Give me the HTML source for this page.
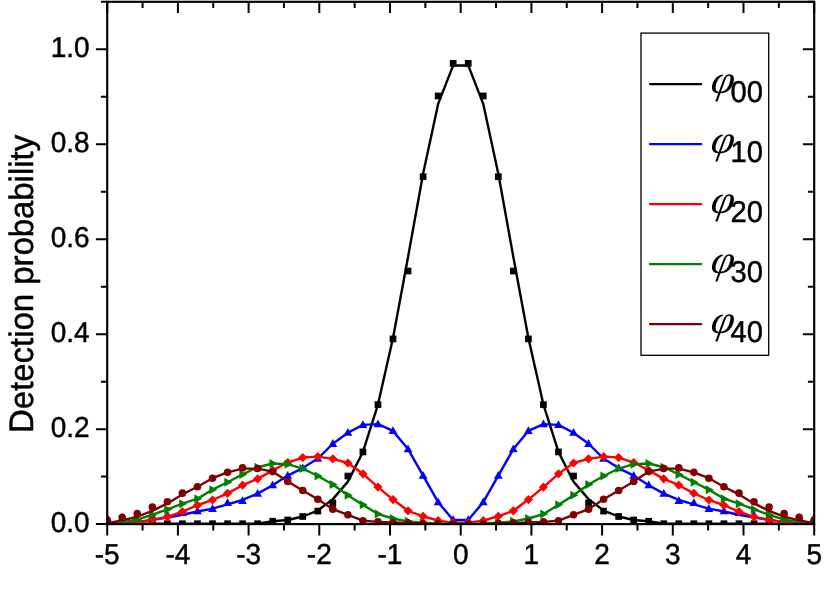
<!DOCTYPE html>
<html><head><meta charset="utf-8"><title>Detection probability</title>
<style>html,body{margin:0;padding:0;background:#fff}svg{display:block;will-change:transform}text{font-family:"Liberation Sans",sans-serif;fill:#000;text-rendering:geometricPrecision}.b{stroke:#000;stroke-width:0.45px}.phi{font-family:"Liberation Serif",serif;font-style:italic}</style></head><body>
<svg width="830" height="608" viewBox="0 0 830 608">
<rect width="830" height="608" fill="#fff"/>
<defs><clipPath id="c"><rect x="107.2" y="1.8" width="707" height="522.3"/></clipPath></defs>
<g clip-path="url(#c)">
<polyline points="107.2,523.72 122.24,523.72 137.29,523.72 152.33,523.72 167.37,523.72 182.41,523.72 197.46,523.72 212.5,523.72 227.54,523.72 242.58,523.72 257.63,523.72 272.67,521.25 287.71,519.97 302.75,516.5 317.8,510.57 332.84,499.12 347.88,481.6 362.92,451.93 377.97,404.59 393.01,338.07 408.05,256.92 423.09,173.68 438.14,103.89 453.18,65.43 468.22,65.43 483.26,103.89 498.31,173.68 513.35,256.92 528.39,338.07 543.43,404.59 558.48,451.93 573.52,481.6 588.56,499.12 603.6,510.57 618.65,516.5 633.69,519.97 648.73,521.25 663.77,523.72 678.82,523.72 693.86,523.72 708.9,523.72 723.94,523.72 738.99,523.72 754.03,523.72 769.07,523.72 784.11,523.72 799.16,523.72 814.2,523.72" fill="none" stroke="#000000" stroke-width="2.4" stroke-linejoin="round"/>
<rect x="103.85" y="520.37" width="6.7" height="6.7" fill="#000000"/><rect x="118.89" y="520.37" width="6.7" height="6.7" fill="#000000"/><rect x="133.94" y="520.37" width="6.7" height="6.7" fill="#000000"/><rect x="148.98" y="520.37" width="6.7" height="6.7" fill="#000000"/><rect x="164.02" y="520.37" width="6.7" height="6.7" fill="#000000"/><rect x="179.06" y="520.37" width="6.7" height="6.7" fill="#000000"/><rect x="194.11" y="520.37" width="6.7" height="6.7" fill="#000000"/><rect x="209.15" y="520.37" width="6.7" height="6.7" fill="#000000"/><rect x="224.19" y="520.37" width="6.7" height="6.7" fill="#000000"/><rect x="239.23" y="520.37" width="6.7" height="6.7" fill="#000000"/><rect x="254.28" y="520.37" width="6.7" height="6.7" fill="#000000"/><rect x="269.32" y="517.9" width="6.7" height="6.7" fill="#000000"/><rect x="284.36" y="516.62" width="6.7" height="6.7" fill="#000000"/><rect x="299.4" y="513.15" width="6.7" height="6.7" fill="#000000"/><rect x="314.45" y="507.74" width="6.7" height="6.7" fill="#000000"/><rect x="329.49" y="499.62" width="6.7" height="6.7" fill="#000000"/><rect x="344.53" y="472.7" width="6.7" height="6.7" fill="#000000"/><rect x="359.57" y="448.58" width="6.7" height="6.7" fill="#000000"/><rect x="374.62" y="401.24" width="6.7" height="6.7" fill="#000000"/><rect x="389.66" y="335.57" width="6.7" height="6.7" fill="#000000"/><rect x="404.7" y="267.67" width="6.7" height="6.7" fill="#000000"/><rect x="419.74" y="173.37" width="6.7" height="6.7" fill="#000000"/><rect x="434.79" y="92.61" width="6.7" height="6.7" fill="#000000"/><rect x="449.83" y="60.03" width="6.7" height="6.7" fill="#000000"/><rect x="464.87" y="60.03" width="6.7" height="6.7" fill="#000000"/><rect x="479.91" y="92.61" width="6.7" height="6.7" fill="#000000"/><rect x="494.96" y="173.37" width="6.7" height="6.7" fill="#000000"/><rect x="510" y="267.67" width="6.7" height="6.7" fill="#000000"/><rect x="525.04" y="335.57" width="6.7" height="6.7" fill="#000000"/><rect x="540.08" y="401.24" width="6.7" height="6.7" fill="#000000"/><rect x="555.13" y="448.58" width="6.7" height="6.7" fill="#000000"/><rect x="570.17" y="472.7" width="6.7" height="6.7" fill="#000000"/><rect x="585.21" y="499.62" width="6.7" height="6.7" fill="#000000"/><rect x="600.25" y="507.74" width="6.7" height="6.7" fill="#000000"/><rect x="615.3" y="513.15" width="6.7" height="6.7" fill="#000000"/><rect x="630.34" y="516.62" width="6.7" height="6.7" fill="#000000"/><rect x="645.38" y="517.9" width="6.7" height="6.7" fill="#000000"/><rect x="660.42" y="520.37" width="6.7" height="6.7" fill="#000000"/><rect x="675.47" y="520.37" width="6.7" height="6.7" fill="#000000"/><rect x="690.51" y="520.37" width="6.7" height="6.7" fill="#000000"/><rect x="705.55" y="520.37" width="6.7" height="6.7" fill="#000000"/><rect x="720.59" y="520.37" width="6.7" height="6.7" fill="#000000"/><rect x="735.64" y="520.37" width="6.7" height="6.7" fill="#000000"/><rect x="750.68" y="520.37" width="6.7" height="6.7" fill="#000000"/><rect x="765.72" y="520.37" width="6.7" height="6.7" fill="#000000"/><rect x="780.76" y="520.37" width="6.7" height="6.7" fill="#000000"/><rect x="795.81" y="520.37" width="6.7" height="6.7" fill="#000000"/><rect x="810.85" y="520.37" width="6.7" height="6.7" fill="#000000"/>
<polyline points="107.2,523.63 122.24,523.15 137.29,522.11 152.33,519.92 167.37,517.55 182.41,514.75 197.46,511.47 212.5,508.67 227.54,504.44 242.58,499.98 257.63,493.62 272.67,485.21 287.71,475.57 302.75,468.07 317.8,458.58 332.84,443.76 347.88,432.7 362.92,424.86 377.97,424.1 393.01,430.89 408.05,449.08 423.09,475.57 438.14,502.21 453.18,519.97 468.22,519.97 483.26,502.21 498.31,475.57 513.35,449.08 528.39,430.89 543.43,424.1 558.48,424.86 573.52,432.7 588.56,443.76 603.6,458.58 618.65,468.07 633.69,475.57 648.73,485.21 663.77,493.62 678.82,499.98 693.86,504.44 708.9,508.67 723.94,511.47 738.99,514.75 754.03,517.55 769.07,519.92 784.11,522.11 799.16,523.15 814.2,523.63" fill="none" stroke="#0000ff" stroke-width="2.4" stroke-linejoin="round"/>
<path d="M107.2 513.25L111.6 521.05L102.8 521.05Z" fill="#0000ff"/><path d="M122.24 513.01L126.64 520.81L117.84 520.81Z" fill="#0000ff"/><path d="M137.29 514.43L141.69 522.23L132.89 522.23Z" fill="#0000ff"/><path d="M152.33 511.44L156.73 519.24L147.93 519.24Z" fill="#0000ff"/><path d="M167.37 510.16L171.77 517.96L162.97 517.96Z" fill="#0000ff"/><path d="M182.41 508.17L186.81 515.97L178.01 515.97Z" fill="#0000ff"/><path d="M197.46 506.5L201.86 514.3L193.06 514.3Z" fill="#0000ff"/><path d="M212.5 504.18L216.9 511.98L208.1 511.98Z" fill="#0000ff"/><path d="M227.54 498.29L231.94 506.09L223.14 506.09Z" fill="#0000ff"/><path d="M242.58 496.3L246.98 504.1L238.18 504.1Z" fill="#0000ff"/><path d="M257.63 488.94L262.03 496.74L253.23 496.74Z" fill="#0000ff"/><path d="M272.67 480.53L277.07 488.33L268.27 488.33Z" fill="#0000ff"/><path d="M287.71 470.89L292.11 478.69L283.31 478.69Z" fill="#0000ff"/><path d="M302.75 463.39L307.15 471.19L298.35 471.19Z" fill="#0000ff"/><path d="M317.8 453.9L322.2 461.7L313.4 461.7Z" fill="#0000ff"/><path d="M332.84 439.08L337.24 446.88L328.44 446.88Z" fill="#0000ff"/><path d="M347.88 428.02L352.28 435.82L343.48 435.82Z" fill="#0000ff"/><path d="M362.92 420.18L367.32 427.98L358.52 427.98Z" fill="#0000ff"/><path d="M377.97 419.42L382.37 427.22L373.57 427.22Z" fill="#0000ff"/><path d="M393.01 426.21L397.41 434.01L388.61 434.01Z" fill="#0000ff"/><path d="M408.05 444.4L412.45 452.2L403.65 452.2Z" fill="#0000ff"/><path d="M423.09 470.89L427.49 478.69L418.69 478.69Z" fill="#0000ff"/><path d="M438.14 497.53L442.54 505.33L433.74 505.33Z" fill="#0000ff"/><path d="M453.18 515.29L457.58 523.09L448.78 523.09Z" fill="#0000ff"/><path d="M468.22 515.29L472.62 523.09L463.82 523.09Z" fill="#0000ff"/><path d="M483.26 497.53L487.66 505.33L478.86 505.33Z" fill="#0000ff"/><path d="M498.31 470.89L502.71 478.69L493.91 478.69Z" fill="#0000ff"/><path d="M513.35 444.4L517.75 452.2L508.95 452.2Z" fill="#0000ff"/><path d="M528.39 426.21L532.79 434.01L523.99 434.01Z" fill="#0000ff"/><path d="M543.43 419.42L547.83 427.22L539.03 427.22Z" fill="#0000ff"/><path d="M558.48 420.18L562.88 427.98L554.08 427.98Z" fill="#0000ff"/><path d="M573.52 428.02L577.92 435.82L569.12 435.82Z" fill="#0000ff"/><path d="M588.56 439.08L592.96 446.88L584.16 446.88Z" fill="#0000ff"/><path d="M603.6 453.9L608 461.7L599.2 461.7Z" fill="#0000ff"/><path d="M618.65 463.39L623.05 471.19L614.25 471.19Z" fill="#0000ff"/><path d="M633.69 470.89L638.09 478.69L629.29 478.69Z" fill="#0000ff"/><path d="M648.73 480.53L653.13 488.33L644.33 488.33Z" fill="#0000ff"/><path d="M663.77 488.94L668.17 496.74L659.37 496.74Z" fill="#0000ff"/><path d="M678.82 496.3L683.22 504.1L674.42 504.1Z" fill="#0000ff"/><path d="M693.86 498.29L698.26 506.09L689.46 506.09Z" fill="#0000ff"/><path d="M708.9 504.18L713.3 511.98L704.5 511.98Z" fill="#0000ff"/><path d="M723.94 506.5L728.34 514.3L719.54 514.3Z" fill="#0000ff"/><path d="M738.99 508.17L743.39 515.97L734.59 515.97Z" fill="#0000ff"/><path d="M754.03 510.16L758.43 517.96L749.63 517.96Z" fill="#0000ff"/><path d="M769.07 511.44L773.47 519.24L764.67 519.24Z" fill="#0000ff"/><path d="M784.11 514.43L788.51 522.23L779.71 522.23Z" fill="#0000ff"/><path d="M799.16 513.01L803.56 520.81L794.76 520.81Z" fill="#0000ff"/><path d="M814.2 513.25L818.6 521.05L809.8 521.05Z" fill="#0000ff"/>
<polyline points="107.2,523.96 122.24,523.72 137.29,522.44 152.33,519.73 167.37,516.88 182.41,511.61 197.46,505.25 212.5,499.98 227.54,493.33 242.58,485.21 257.63,478.85 272.67,470.4 287.71,462.56 302.75,457.53 317.8,456.63 332.84,458.86 347.88,462.99 362.92,473.82 377.97,487.11 393.01,499.55 408.05,510.81 423.09,516.27 438.14,520.68 453.18,522.68 468.22,522.68 483.26,520.68 498.31,516.27 513.35,510.81 528.39,499.55 543.43,487.11 558.48,473.82 573.52,462.99 588.56,458.86 603.6,456.63 618.65,457.53 633.69,462.56 648.73,470.4 663.77,478.85 678.82,485.21 693.86,493.33 708.9,499.98 723.94,505.25 738.99,511.61 754.03,516.88 769.07,519.73 784.11,522.44 799.16,523.72 814.2,523.96" fill="none" stroke="#ff0000" stroke-width="2.4" stroke-linejoin="round"/>
<path d="M107.2 519.36L111.8 523.96L107.2 528.56L102.6 523.96Z" fill="#ff0000"/><path d="M122.24 519.12L126.84 523.72L122.24 528.32L117.64 523.72Z" fill="#ff0000"/><path d="M137.29 517.84L141.89 522.44L137.29 527.04L132.69 522.44Z" fill="#ff0000"/><path d="M152.33 515.13L156.93 519.73L152.33 524.33L147.73 519.73Z" fill="#ff0000"/><path d="M167.37 512.28L171.97 516.88L167.37 521.48L162.77 516.88Z" fill="#ff0000"/><path d="M182.41 507.01L187.01 511.61L182.41 516.21L177.81 511.61Z" fill="#ff0000"/><path d="M197.46 500.65L202.06 505.25L197.46 509.85L192.86 505.25Z" fill="#ff0000"/><path d="M212.5 495.38L217.1 499.98L212.5 504.58L207.9 499.98Z" fill="#ff0000"/><path d="M227.54 488.73L232.14 493.33L227.54 497.93L222.94 493.33Z" fill="#ff0000"/><path d="M242.58 480.61L247.18 485.21L242.58 489.81L237.98 485.21Z" fill="#ff0000"/><path d="M257.63 474.25L262.23 478.85L257.63 483.45L253.03 478.85Z" fill="#ff0000"/><path d="M272.67 465.8L277.27 470.4L272.67 475L268.07 470.4Z" fill="#ff0000"/><path d="M287.71 457.96L292.31 462.56L287.71 467.16L283.11 462.56Z" fill="#ff0000"/><path d="M302.75 452.93L307.35 457.53L302.75 462.13L298.15 457.53Z" fill="#ff0000"/><path d="M317.8 452.03L322.4 456.63L317.8 461.23L313.2 456.63Z" fill="#ff0000"/><path d="M332.84 454.26L337.44 458.86L332.84 463.46L328.24 458.86Z" fill="#ff0000"/><path d="M347.88 458.39L352.48 462.99L347.88 467.59L343.28 462.99Z" fill="#ff0000"/><path d="M362.92 469.22L367.52 473.82L362.92 478.42L358.32 473.82Z" fill="#ff0000"/><path d="M377.97 482.51L382.57 487.11L377.97 491.71L373.37 487.11Z" fill="#ff0000"/><path d="M393.01 494.95L397.61 499.55L393.01 504.15L388.41 499.55Z" fill="#ff0000"/><path d="M408.05 506.21L412.65 510.81L408.05 515.41L403.45 510.81Z" fill="#ff0000"/><path d="M423.09 511.67L427.69 516.27L423.09 520.87L418.49 516.27Z" fill="#ff0000"/><path d="M438.14 516.08L442.74 520.68L438.14 525.28L433.54 520.68Z" fill="#ff0000"/><path d="M453.18 518.08L457.78 522.68L453.18 527.28L448.58 522.68Z" fill="#ff0000"/><path d="M468.22 518.08L472.82 522.68L468.22 527.28L463.62 522.68Z" fill="#ff0000"/><path d="M483.26 516.08L487.86 520.68L483.26 525.28L478.66 520.68Z" fill="#ff0000"/><path d="M498.31 511.67L502.91 516.27L498.31 520.87L493.71 516.27Z" fill="#ff0000"/><path d="M513.35 506.21L517.95 510.81L513.35 515.41L508.75 510.81Z" fill="#ff0000"/><path d="M528.39 494.95L532.99 499.55L528.39 504.15L523.79 499.55Z" fill="#ff0000"/><path d="M543.43 482.51L548.03 487.11L543.43 491.71L538.83 487.11Z" fill="#ff0000"/><path d="M558.48 469.22L563.08 473.82L558.48 478.42L553.88 473.82Z" fill="#ff0000"/><path d="M573.52 458.39L578.12 462.99L573.52 467.59L568.92 462.99Z" fill="#ff0000"/><path d="M588.56 454.26L593.16 458.86L588.56 463.46L583.96 458.86Z" fill="#ff0000"/><path d="M603.6 452.03L608.2 456.63L603.6 461.23L599 456.63Z" fill="#ff0000"/><path d="M618.65 452.93L623.25 457.53L618.65 462.13L614.05 457.53Z" fill="#ff0000"/><path d="M633.69 457.96L638.29 462.56L633.69 467.16L629.09 462.56Z" fill="#ff0000"/><path d="M648.73 465.8L653.33 470.4L648.73 475L644.13 470.4Z" fill="#ff0000"/><path d="M663.77 474.25L668.37 478.85L663.77 483.45L659.17 478.85Z" fill="#ff0000"/><path d="M678.82 480.61L683.42 485.21L678.82 489.81L674.22 485.21Z" fill="#ff0000"/><path d="M693.86 488.73L698.46 493.33L693.86 497.93L689.26 493.33Z" fill="#ff0000"/><path d="M708.9 495.38L713.5 499.98L708.9 504.58L704.3 499.98Z" fill="#ff0000"/><path d="M723.94 500.65L728.54 505.25L723.94 509.85L719.34 505.25Z" fill="#ff0000"/><path d="M738.99 507.01L743.59 511.61L738.99 516.21L734.39 511.61Z" fill="#ff0000"/><path d="M754.03 512.28L758.63 516.88L754.03 521.48L749.43 516.88Z" fill="#ff0000"/><path d="M769.07 515.13L773.67 519.73L769.07 524.33L764.47 519.73Z" fill="#ff0000"/><path d="M784.11 517.84L788.71 522.44L784.11 527.04L779.51 522.44Z" fill="#ff0000"/><path d="M799.16 519.12L803.76 523.72L799.16 528.32L794.56 523.72Z" fill="#ff0000"/><path d="M814.2 519.36L818.8 523.96L814.2 528.56L809.6 523.96Z" fill="#ff0000"/>
<polyline points="107.2,523.63 122.24,522.49 137.29,519.54 152.33,514.75 167.37,509.38 182.41,503.64 197.46,498.7 212.5,489.63 227.54,482.22 242.58,474.39 257.63,467.22 272.67,463.47 287.71,464.18 302.75,468.55 317.8,476.05 332.84,484.45 347.88,495.28 362.92,504.87 377.97,514.03 393.01,518.5 408.05,521.35 423.09,522.68 438.14,523.39 453.18,523.63 468.22,523.63 483.26,523.39 498.31,522.68 513.35,521.35 528.39,518.5 543.43,514.03 558.48,504.87 573.52,495.28 588.56,484.45 603.6,476.05 618.65,468.55 633.69,464.18 648.73,463.47 663.77,467.22 678.82,474.39 693.86,482.22 708.9,489.63 723.94,498.7 738.99,503.64 754.03,509.38 769.07,514.75 784.11,519.54 799.16,522.49 814.2,523.63" fill="none" stroke="#008000" stroke-width="2.4" stroke-linejoin="round"/>
<path d="M112 523.63L104 528.13L104 519.13Z" fill="#008000"/><path d="M127.04 522.49L119.04 526.99L119.04 517.99Z" fill="#008000"/><path d="M142.09 519.54L134.09 524.04L134.09 515.04Z" fill="#008000"/><path d="M157.13 514.75L149.13 519.25L149.13 510.25Z" fill="#008000"/><path d="M172.17 509.38L164.17 513.88L164.17 504.88Z" fill="#008000"/><path d="M187.21 503.64L179.21 508.14L179.21 499.14Z" fill="#008000"/><path d="M202.26 498.7L194.26 503.2L194.26 494.2Z" fill="#008000"/><path d="M217.3 489.63L209.3 494.13L209.3 485.13Z" fill="#008000"/><path d="M232.34 482.22L224.34 486.72L224.34 477.72Z" fill="#008000"/><path d="M247.38 474.39L239.38 478.89L239.38 469.89Z" fill="#008000"/><path d="M262.43 467.22L254.43 471.72L254.43 462.72Z" fill="#008000"/><path d="M277.47 463.47L269.47 467.97L269.47 458.97Z" fill="#008000"/><path d="M292.51 464.18L284.51 468.68L284.51 459.68Z" fill="#008000"/><path d="M307.55 468.55L299.55 473.05L299.55 464.05Z" fill="#008000"/><path d="M322.6 476.05L314.6 480.55L314.6 471.55Z" fill="#008000"/><path d="M337.64 484.45L329.64 488.95L329.64 479.95Z" fill="#008000"/><path d="M352.68 495.28L344.68 499.78L344.68 490.78Z" fill="#008000"/><path d="M367.72 504.87L359.72 509.37L359.72 500.37Z" fill="#008000"/><path d="M382.77 514.03L374.77 518.53L374.77 509.53Z" fill="#008000"/><path d="M397.81 518.5L389.81 523L389.81 514Z" fill="#008000"/><path d="M412.85 521.35L404.85 525.85L404.85 516.85Z" fill="#008000"/><path d="M427.89 522.68L419.89 527.18L419.89 518.18Z" fill="#008000"/><path d="M442.94 523.39L434.94 527.89L434.94 518.89Z" fill="#008000"/><path d="M457.98 523.63L449.98 528.13L449.98 519.13Z" fill="#008000"/><path d="M473.02 523.63L465.02 528.13L465.02 519.13Z" fill="#008000"/><path d="M488.06 523.39L480.06 527.89L480.06 518.89Z" fill="#008000"/><path d="M503.11 522.68L495.11 527.18L495.11 518.18Z" fill="#008000"/><path d="M518.15 521.35L510.15 525.85L510.15 516.85Z" fill="#008000"/><path d="M533.19 518.5L525.19 523L525.19 514Z" fill="#008000"/><path d="M548.23 514.03L540.23 518.53L540.23 509.53Z" fill="#008000"/><path d="M563.28 504.87L555.28 509.37L555.28 500.37Z" fill="#008000"/><path d="M578.32 495.28L570.32 499.78L570.32 490.78Z" fill="#008000"/><path d="M593.36 484.45L585.36 488.95L585.36 479.95Z" fill="#008000"/><path d="M608.4 476.05L600.4 480.55L600.4 471.55Z" fill="#008000"/><path d="M623.45 468.55L615.45 473.05L615.45 464.05Z" fill="#008000"/><path d="M638.49 464.18L630.49 468.68L630.49 459.68Z" fill="#008000"/><path d="M653.53 463.47L645.53 467.97L645.53 458.97Z" fill="#008000"/><path d="M668.57 467.22L660.57 471.72L660.57 462.72Z" fill="#008000"/><path d="M683.62 474.39L675.62 478.89L675.62 469.89Z" fill="#008000"/><path d="M698.66 482.22L690.66 486.72L690.66 477.72Z" fill="#008000"/><path d="M713.7 489.63L705.7 494.13L705.7 485.13Z" fill="#008000"/><path d="M728.74 498.7L720.74 503.2L720.74 494.2Z" fill="#008000"/><path d="M743.79 503.64L735.79 508.14L735.79 499.14Z" fill="#008000"/><path d="M758.83 509.38L750.83 513.88L750.83 504.88Z" fill="#008000"/><path d="M773.87 514.75L765.87 519.25L765.87 510.25Z" fill="#008000"/><path d="M788.91 519.54L780.91 524.04L780.91 515.04Z" fill="#008000"/><path d="M803.96 522.49L795.96 526.99L795.96 517.99Z" fill="#008000"/><path d="M819 523.63L811 528.13L811 519.13Z" fill="#008000"/>
<polyline points="107.2,523.25 122.24,520.4 137.29,516.6 152.33,510.9 167.37,503.45 182.41,494.42 197.46,486.78 212.5,478.23 227.54,472.34 242.58,468.64 257.63,468.64 272.67,471.59 287.71,481.51 302.75,490.53 317.8,499.27 332.84,509.14 347.88,514.79 362.92,520.68 377.97,521.87 393.01,522.49 408.05,523.06 423.09,523.63 438.14,524.1 453.18,524.1 468.22,524.1 483.26,524.1 498.31,523.63 513.35,523.06 528.39,522.49 543.43,521.87 558.48,520.68 573.52,514.79 588.56,509.14 603.6,499.27 618.65,490.53 633.69,481.51 648.73,471.59 663.77,468.64 678.82,468.64 693.86,472.34 708.9,478.23 723.94,486.78 738.99,494.42 754.03,503.45 769.07,510.9 784.11,516.6 799.16,520.4 814.2,523.25" fill="none" stroke="#800000" stroke-width="2.4" stroke-linejoin="round"/>
<circle cx="107.2" cy="520.06" r="3.8" fill="#800000"/><circle cx="122.24" cy="517.36" r="3.8" fill="#800000"/><circle cx="137.29" cy="513.65" r="3.8" fill="#800000"/><circle cx="152.33" cy="507.1" r="3.8" fill="#800000"/><circle cx="167.37" cy="501.78" r="3.8" fill="#800000"/><circle cx="182.41" cy="493.14" r="3.8" fill="#800000"/><circle cx="197.46" cy="486.78" r="3.8" fill="#800000"/><circle cx="212.5" cy="478.23" r="3.8" fill="#800000"/><circle cx="227.54" cy="472.34" r="3.8" fill="#800000"/><circle cx="242.58" cy="467.88" r="3.8" fill="#800000"/><circle cx="257.63" cy="468.5" r="3.8" fill="#800000"/><circle cx="272.67" cy="471.59" r="3.8" fill="#800000"/><circle cx="287.71" cy="481.51" r="3.8" fill="#800000"/><circle cx="302.75" cy="490.53" r="3.8" fill="#800000"/><circle cx="317.8" cy="499.27" r="3.8" fill="#800000"/><circle cx="332.84" cy="509.14" r="3.8" fill="#800000"/><circle cx="347.88" cy="514.79" r="3.8" fill="#800000"/><circle cx="362.92" cy="520.68" r="3.8" fill="#800000"/><circle cx="377.97" cy="521.87" r="3.8" fill="#800000"/><circle cx="393.01" cy="522.49" r="3.8" fill="#800000"/><circle cx="408.05" cy="523.06" r="3.8" fill="#800000"/><circle cx="423.09" cy="523.63" r="3.8" fill="#800000"/><circle cx="438.14" cy="524.1" r="3.8" fill="#800000"/><circle cx="453.18" cy="524.1" r="3.8" fill="#800000"/><circle cx="468.22" cy="524.1" r="3.8" fill="#800000"/><circle cx="483.26" cy="524.1" r="3.8" fill="#800000"/><circle cx="498.31" cy="523.63" r="3.8" fill="#800000"/><circle cx="513.35" cy="523.06" r="3.8" fill="#800000"/><circle cx="528.39" cy="522.49" r="3.8" fill="#800000"/><circle cx="543.43" cy="521.87" r="3.8" fill="#800000"/><circle cx="558.48" cy="520.68" r="3.8" fill="#800000"/><circle cx="573.52" cy="514.79" r="3.8" fill="#800000"/><circle cx="588.56" cy="509.14" r="3.8" fill="#800000"/><circle cx="603.6" cy="499.27" r="3.8" fill="#800000"/><circle cx="618.65" cy="490.53" r="3.8" fill="#800000"/><circle cx="633.69" cy="481.51" r="3.8" fill="#800000"/><circle cx="648.73" cy="471.59" r="3.8" fill="#800000"/><circle cx="663.77" cy="468.5" r="3.8" fill="#800000"/><circle cx="678.82" cy="467.88" r="3.8" fill="#800000"/><circle cx="693.86" cy="472.34" r="3.8" fill="#800000"/><circle cx="708.9" cy="478.23" r="3.8" fill="#800000"/><circle cx="723.94" cy="486.78" r="3.8" fill="#800000"/><circle cx="738.99" cy="493.14" r="3.8" fill="#800000"/><circle cx="754.03" cy="501.78" r="3.8" fill="#800000"/><circle cx="769.07" cy="507.1" r="3.8" fill="#800000"/><circle cx="784.11" cy="513.65" r="3.8" fill="#800000"/><circle cx="799.16" cy="517.36" r="3.8" fill="#800000"/><circle cx="814.2" cy="520.06" r="3.8" fill="#800000"/>
</g>
<rect x="107.2" y="1.8" width="707" height="522.3" fill="none" stroke="#000" stroke-width="2.15"/>
<path d="M107.2 524.1v11.3M107.2 1.8v11.3M142.55 524.1v6.3M142.55 1.8v6.3M177.9 524.1v11.3M177.9 1.8v11.3M213.25 524.1v6.3M213.25 1.8v6.3M248.6 524.1v11.3M248.6 1.8v11.3M283.95 524.1v6.3M283.95 1.8v6.3M319.3 524.1v11.3M319.3 1.8v11.3M354.65 524.1v6.3M354.65 1.8v6.3M390 524.1v11.3M390 1.8v11.3M425.35 524.1v6.3M425.35 1.8v6.3M460.7 524.1v11.3M460.7 1.8v11.3M496.05 524.1v6.3M496.05 1.8v6.3M531.4 524.1v11.3M531.4 1.8v11.3M566.75 524.1v6.3M566.75 1.8v6.3M602.1 524.1v11.3M602.1 1.8v11.3M637.45 524.1v6.3M637.45 1.8v6.3M672.8 524.1v11.3M672.8 1.8v11.3M708.15 524.1v6.3M708.15 1.8v6.3M743.5 524.1v11.3M743.5 1.8v11.3M778.85 524.1v6.3M778.85 1.8v6.3M814.2 524.1v11.3M814.2 1.8v11.3M107.2 524.1h-11.3M814.2 524.1h-11.3M107.2 476.62h-6.3M814.2 476.62h-6.3M107.2 429.14h-11.3M814.2 429.14h-11.3M107.2 381.65h-6.3M814.2 381.65h-6.3M107.2 334.17h-11.3M814.2 334.17h-11.3M107.2 286.69h-6.3M814.2 286.69h-6.3M107.2 239.21h-11.3M814.2 239.21h-11.3M107.2 191.73h-6.3M814.2 191.73h-6.3M107.2 144.25h-11.3M814.2 144.25h-11.3M107.2 96.76h-6.3M814.2 96.76h-6.3M107.2 49.28h-11.3M814.2 49.28h-11.3M107.2 1.8h-6.3M814.2 1.8h-6.3" stroke="#000" stroke-width="2" fill="none"/>
<text transform="translate(107.2,564) scale(1,1.03)" font-size="28.0" text-anchor="middle" class="b">-5</text>
<text transform="translate(177.9,564) scale(1,1.03)" font-size="28.0" text-anchor="middle" class="b">-4</text>
<text transform="translate(248.6,564) scale(1,1.03)" font-size="28.0" text-anchor="middle" class="b">-3</text>
<text transform="translate(319.3,564) scale(1,1.03)" font-size="28.0" text-anchor="middle" class="b">-2</text>
<text transform="translate(390,564) scale(1,1.03)" font-size="28.0" text-anchor="middle" class="b">-1</text>
<text transform="translate(460.7,564) scale(1,1.03)" font-size="28.0" text-anchor="middle" class="b">0</text>
<text transform="translate(531.4,564) scale(1,1.03)" font-size="28.0" text-anchor="middle" class="b">1</text>
<text transform="translate(602.1,564) scale(1,1.03)" font-size="28.0" text-anchor="middle" class="b">2</text>
<text transform="translate(672.8,564) scale(1,1.03)" font-size="28.0" text-anchor="middle" class="b">3</text>
<text transform="translate(743.5,564) scale(1,1.03)" font-size="28.0" text-anchor="middle" class="b">4</text>
<text transform="translate(814.2,564) scale(1,1.03)" font-size="28.0" text-anchor="middle" class="b">5</text>
<text transform="translate(89.6,532.2) scale(1,1.03)" font-size="28.0" text-anchor="end" class="b">0.0</text>
<text transform="translate(89.6,437.24) scale(1,1.03)" font-size="28.0" text-anchor="end" class="b">0.2</text>
<text transform="translate(89.6,342.27) scale(1,1.03)" font-size="28.0" text-anchor="end" class="b">0.4</text>
<text transform="translate(89.6,247.31) scale(1,1.03)" font-size="28.0" text-anchor="end" class="b">0.6</text>
<text transform="translate(89.6,152.35) scale(1,1.03)" font-size="28.0" text-anchor="end" class="b">0.8</text>
<text transform="translate(89.6,57.38) scale(1,1.03)" font-size="28.0" text-anchor="end" class="b">1.0</text>
<text transform="translate(32.6,283.9) rotate(-90) scale(1,1.03)" font-size="32.9" text-anchor="middle" class="b">Detection probability</text>
<rect x="641" y="33.1" width="127.7" height="322.2" fill="#fff" stroke="#000" stroke-width="1.3"/>
<line x1="650" y1="84.1" x2="701.2" y2="84.1" stroke="#000000" stroke-width="2.3" stroke-linecap="round"/>
<text transform="translate(709.4,92.5) skewX(-10) scale(1.06,1)" font-size="39.8" class="phi">&#966;</text>
<text transform="translate(730.5,102) scale(1,1.03)" font-size="29.2" class="b">00</text>
<line x1="650" y1="144.1" x2="701.2" y2="144.1" stroke="#0000ff" stroke-width="2.3" stroke-linecap="round"/>
<text transform="translate(709.4,152.5) skewX(-10) scale(1.06,1)" font-size="39.8" class="phi">&#966;</text>
<text transform="translate(730.5,162) scale(1,1.03)" font-size="29.2" class="b">10</text>
<line x1="650" y1="204.1" x2="701.2" y2="204.1" stroke="#ff0000" stroke-width="2.3" stroke-linecap="round"/>
<text transform="translate(709.4,212.5) skewX(-10) scale(1.06,1)" font-size="39.8" class="phi">&#966;</text>
<text transform="translate(730.5,222) scale(1,1.03)" font-size="29.2" class="b">20</text>
<line x1="650" y1="264.1" x2="701.2" y2="264.1" stroke="#008000" stroke-width="2.3" stroke-linecap="round"/>
<text transform="translate(709.4,272.5) skewX(-10) scale(1.06,1)" font-size="39.8" class="phi">&#966;</text>
<text transform="translate(730.5,282) scale(1,1.03)" font-size="29.2" class="b">30</text>
<line x1="650" y1="324.1" x2="701.2" y2="324.1" stroke="#800000" stroke-width="2.3" stroke-linecap="round"/>
<text transform="translate(709.4,332.5) skewX(-10) scale(1.06,1)" font-size="39.8" class="phi">&#966;</text>
<text transform="translate(730.5,342) scale(1,1.03)" font-size="29.2" class="b">40</text>
</svg></body></html>
